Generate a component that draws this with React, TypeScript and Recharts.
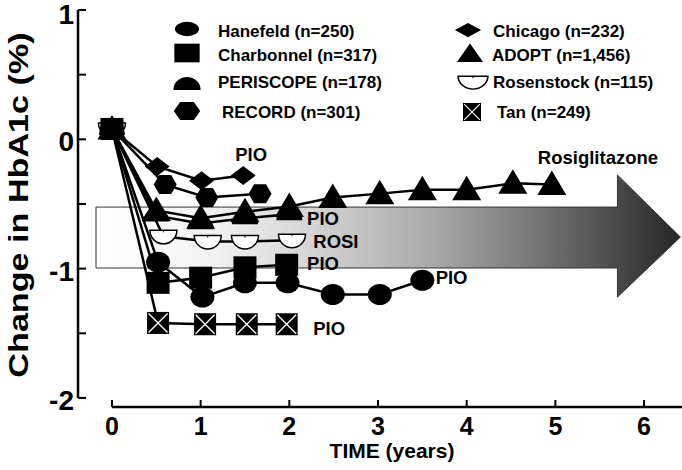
import React from 'react';
import { LineChart, Line, XAxis, YAxis, ReferenceArea, ReferenceLine, ReferenceDot } from 'recharts';

const FONT = '"Liberation Sans", Arial, Helvetica, sans-serif';

// axis ranges (years / % change)
const X_MIN = -0.383;
const X_MAX = 6.428;
const Y_MIN = -2.07;
const Y_MAX = 1;
const xTicks = [0, 1, 2, 3, 4, 5, 6];
const yTicks = [-2, -1.5, -1, -0.5, 0, 0.5, 1];

// studies, every one starts at baseline (0, 0.08)
const hanefeldX = [0, 0.52, 1.02, 1.5, 1.98, 2.49, 3.02, 3.5];
const hanefeldY = [0.08, -0.95, -1.22, -1.11, -1.11, -1.2, -1.2, -1.09];
const charbonnelX = [0, 0.52, 1.0, 1.5, 1.97];
const charbonnelY = [0.08, -1.11, -1.07, -0.99, -0.97];
const periscopeX = [0, 0.5, 1.0, 1.5, 2.0];
const periscopeY = [0.08, -0.59, -0.65, -0.61, -0.58];
const recordX = [0, 0.6, 1.07, 1.67];
const recordY = [0.08, -0.35, -0.45, -0.42];
const chicagoX = [0, 0.51, 1.01, 1.48];
const chicagoY = [0.08, -0.21, -0.32, -0.28];
const adoptX = [0, 0.5, 1.0, 1.5, 2.0, 2.49, 3.02, 3.5, 4.0, 4.52, 4.96];
const adoptY = [0.08, -0.55, -0.61, -0.56, -0.52, -0.45, -0.42, -0.39, -0.39, -0.34, -0.35];
const rosenstockX = [0, 0.58, 1.08, 1.5, 2.03];
const rosenstockY = [0.08, -0.75, -0.79, -0.79, -0.78];
const tanX = [0, 0.52, 1.05, 1.52, 1.97];
const tanY = [0.08, -1.42, -1.43, -1.43, -1.43];

// text annotations
const noteText = ['PIO', 'PIO', 'ROSI', 'PIO', 'PIO', 'PIO'];
const noteX = [1.39, 2.2, 2.27, 2.2, 3.65, 2.27];
const noteY = [-0.12, -0.61, -0.79, -0.957, -1.066, -1.46];
const arrowLabel = 'Rosiglitazone';
const arrowLabelX = 5.48;
const arrowLabelY = -0.137;

// big arrow: tail, head base, tip (x) and body / head edges (y)
const arrowX = [-0.18, 5.7, 6.41];
const arrowBodyY = [-0.524, -0.995];
const arrowHeadY = [-0.276, -1.22];
const arrowTipY = -0.756;

type Shape = 'circle' | 'square' | 'dome' | 'hexagon' | 'diamond' | 'triangle' | 'openDome' | 'xbox';

const series: { name: string; shape: Shape; xs: number[]; ys: number[] }[] = [
  { name: 'Hanefeld (n=250)', shape: 'circle', xs: hanefeldX, ys: hanefeldY },
  { name: 'Charbonnel (n=317)', shape: 'square', xs: charbonnelX, ys: charbonnelY },
  { name: 'PERISCOPE (n=178)', shape: 'dome', xs: periscopeX, ys: periscopeY },
  { name: 'RECORD (n=301)', shape: 'hexagon', xs: recordX, ys: recordY },
  { name: 'Chicago (n=232)', shape: 'diamond', xs: chicagoX, ys: chicagoY },
  { name: 'ADOPT (n=1,456)', shape: 'triangle', xs: adoptX, ys: adoptY },
  { name: 'Rosenstock (n=115)', shape: 'openDome', xs: rosenstockX, ys: rosenstockY },
  { name: 'Tan (n=249)', shape: 'xbox', xs: tanX, ys: tanY },
];
// paint order (last on top), so the baseline blob ends up solid black
const drawOrder = [7, 6, 2, 5, 1, 4, 3, 0];

// legend layout (pixels): symbol centre, text start, row centre
const legendPos = [
  { sx: 187, sy: 29, tx: 218, ty: 31 },
  { sx: 187, sy: 53, tx: 218, ty: 55 },
  { sx: 187, sy: 84, tx: 218, ty: 82 },
  { sx: 187, sy: 111, tx: 222, ty: 112 },
  { sx: 468, sy: 30, tx: 493, ty: 31 },
  { sx: 470, sy: 54, tx: 492, ty: 55 },
  { sx: 473, sy: 82, tx: 493, ty: 82 },
  { sx: 472, sy: 112, tx: 497, ty: 112 },
];
const legendScale: Record<Shape, [number, number]> = {
  circle: [1, 0.68],
  square: [1.1, 0.85],
  dome: [1.05, 1],
  hexagon: [1.15, 0.95],
  diamond: [1.05, 0.75],
  triangle: [0.9, 0.75],
  openDome: [1.1, 0.95],
  xbox: [0.82, 0.82],
};

function Marker({ shape, cx, cy, sx = 1, sy = 1 }: { shape: Shape; cx: number; cy: number; sx?: number; sy?: number }) {
  const t = `translate(${cx},${cy}) scale(${sx},${sy})`;
  switch (shape) {
    case 'circle':
      return <ellipse transform={t} cx={0} cy={0} rx={12} ry={10.5} fill="#000" />;
    case 'square':
      return <rect transform={t} x={-11.5} y={-11} width={23} height={22} fill="#000" />;
    case 'dome':
      return <path transform={t} d="M-13,6 A13,13 0 0 1 13,6 Z" fill="#000" />;
    case 'hexagon':
      return <polygon transform={t} points="-11.5,0 -6,-9.5 6,-9.5 11.5,0 6,9.5 -6,9.5" fill="#000" />;
    case 'diamond':
      return <polygon transform={t} points="0,-9.5 12.5,0 0,9.5 -12.5,0" fill="#000" />;
    case 'triangle':
      return <polygon transform={t} points="0,-14 14.5,10.5 -14.5,10.5" fill="#000" />;
    case 'openDome':
      return (
        <g transform={t}>
          <path d="M-13.5,-6 A13.5,13.5 0 0 0 13.5,-6 Z" fill="#fff" stroke="#000" strokeWidth={1.5} />
          <line x1={0} y1={-6} x2={0} y2={-4} stroke="#000" strokeWidth={1} />
        </g>
      );
    case 'xbox':
      return (
        <g transform={t}>
          <rect x={-11} y={-11} width={22} height={22} fill="#000" />
          <path d="M-9.5,-9.5 L9.5,9.5 M9.5,-9.5 L-9.5,9.5" stroke="#fff" strokeWidth={1.3} />
        </g>
      );
  }
  return null;
}

const makeDot = (shape: Shape) => (p: any) => (
  <g key={`${shape}-${p.index}`}>
    <Marker shape={shape} cx={p.cx} cy={p.cy} />
  </g>
);

const ArrowShape = (p: any) => {
  const { x, y, width, height } = p;
  const x1 = arrowX[0];
  const x2 = arrowX[2];
  const yTop = arrowHeadY[0];
  const yBot = arrowHeadY[1];
  const fx = (v: number) => x + (width * (v - x1)) / (x2 - x1);
  const fy = (v: number) => y + (height * (yTop - v)) / (yTop - yBot);
  const d = [
    `M${fx(arrowX[0])},${fy(arrowBodyY[0])}`,
    `L${fx(arrowX[1])},${fy(arrowBodyY[0])}`,
    `L${fx(arrowX[1])},${fy(arrowHeadY[0])}`,
    `L${fx(arrowX[2])},${fy(arrowTipY)}`,
    `L${fx(arrowX[1])},${fy(arrowHeadY[1])}`,
    `L${fx(arrowX[1])},${fy(arrowBodyY[1])}`,
    `L${fx(arrowX[0])},${fy(arrowBodyY[1])}`,
    'Z',
  ].join(' ');
  return (
    <g>
      <defs>
        <linearGradient id="arrowGrad" x1="0" y1="0" x2="1" y2="0">
          <stop offset="0" stopColor="#ffffff" />
          <stop offset="0.2" stopColor="#f2f2f2" />
          <stop offset="0.35" stopColor="#d8d8d8" />
          <stop offset="0.58" stopColor="#a8a8a8" />
          <stop offset="0.75" stopColor="#777777" />
          <stop offset="0.89" stopColor="#4a4a4a" />
          <stop offset="1" stopColor="#262626" />
        </linearGradient>
      </defs>
      <path d={d} fill="url(#arrowGrad)" stroke="#333" strokeWidth={1} />
    </g>
  );
};

const XTick = (p: any) => (
  <g>
    <line x1={p.x} y1={407} x2={p.x} y2={400} stroke="#000" strokeWidth={2} />
    <text x={p.x} y={435} textAnchor="middle" fontFamily={FONT} fontWeight="bold" fontSize={25} fill="#000">
      {p.payload.value}
    </text>
  </g>
);

const YTick = (p: any) => {
  const v = p.payload.value;
  return (
    <g>
      <line x1={78} y1={p.y} x2={86} y2={p.y} stroke="#000" strokeWidth={2} />
      {Number.isInteger(v) && (
        <text
          x={74}
          y={p.y + (v === Y_MAX ? 4 : 2)}
          dy="0.36em"
          textAnchor="end"
          fontFamily={FONT}
          fontWeight="bold"
          fontSize={28}
          fill="#000"
        >
          {v}
        </text>
      )}
    </g>
  );
};

const XTitle = () => (
  <text x={392} y={458} textAnchor="middle" fontFamily={FONT} fontWeight="bold" fontSize={21} fill="#000">
    TIME (years)
  </text>
);

const YTitle = () => (
  <text
    transform="translate(28,205) rotate(-90) scale(1.22,1)"
    textAnchor="middle"
    fontFamily={FONT}
    fontWeight="bold"
    fontSize={28}
    fill="#000"
  >
    Change in HbA1c (%)
  </text>
);

const noteShape = (text: string, anchor: 'start' | 'middle') => (p: any) => (
  <text x={p.cx} y={p.cy} dy="0.36em" textAnchor={anchor} fontFamily={FONT} fontWeight="bold" fontSize={18.5} fill="#000">
    {text}
  </text>
);

export default function App() {
  return (
    <div style={{ position: 'absolute', left: 0, top: 0, width: 682, height: 470, background: '#fff' }}>
      <LineChart width={682} height={470} margin={{ top: 10, right: 0, bottom: 62, left: 77 }}>
        <XAxis
          dataKey="x"
          type="number"
          domain={[X_MIN, X_MAX]}
          ticks={xTicks}
          interval={0}
          allowDataOverflow
          axisLine={false}
          tickLine={false}
          height={1}
          tick={(p: any) => <XTick {...p} />}
          label={<XTitle />}
        />
        <YAxis
          type="number"
          domain={[Y_MIN, Y_MAX]}
          ticks={yTicks}
          interval={0}
          allowDataOverflow
          axisLine={false}
          tickLine={false}
          width={1}
          tick={(p: any) => <YTick {...p} />}
          label={<YTitle />}
        />
        <ReferenceArea
          x1={arrowX[0]}
          x2={arrowX[2]}
          y1={arrowHeadY[1]}
          y2={arrowHeadY[0]}
          ifOverflow="visible"
          shape={ArrowShape}
        />
        <ReferenceLine segment={[{ x: X_MIN, y: -2 }, { x: X_MIN, y: Y_MAX }]} stroke="#000" strokeWidth={2.5} ifOverflow="visible" />
        <ReferenceLine segment={[{ x: 0, y: Y_MIN }, { x: X_MAX, y: Y_MIN }]} stroke="#000" strokeWidth={2.5} ifOverflow="visible" />
        {drawOrder.map((k) => {
          const s = series[k];
          return (
            <Line
              key={s.name}
              data={s.xs.map((x, i) => ({ x, y: s.ys[i] }))}
              dataKey="y"
              type="linear"
              stroke="#000"
              strokeWidth={2.5}
              dot={makeDot(s.shape)}
              activeDot={false}
              isAnimationActive={false}
            />
          );
        })}
        {noteText.map((t, i) => (
          <ReferenceDot key={`note-${i}`} x={noteX[i]} y={noteY[i]} r={0} ifOverflow="visible" shape={noteShape(t, 'start')} />
        ))}
        <ReferenceDot x={arrowLabelX} y={arrowLabelY} r={0} ifOverflow="visible" shape={noteShape(arrowLabel, 'middle')} />
      </LineChart>
      <svg width={682} height={140} style={{ position: 'absolute', left: 0, top: 0, pointerEvents: 'none' }}>
        {series.map((s, i) => {
          const pos = legendPos[i];
          const [kx, ky] = legendScale[s.shape];
          return (
            <g key={s.name}>
              <Marker shape={s.shape} cx={pos.sx} cy={pos.sy} sx={kx} sy={ky} />
              <text x={pos.tx} y={pos.ty} dy="0.36em" fontFamily={FONT} fontWeight="bold" fontSize={17} fill="#000">
                {s.name}
              </text>
            </g>
          );
        })}
      </svg>
    </div>
  );
}
